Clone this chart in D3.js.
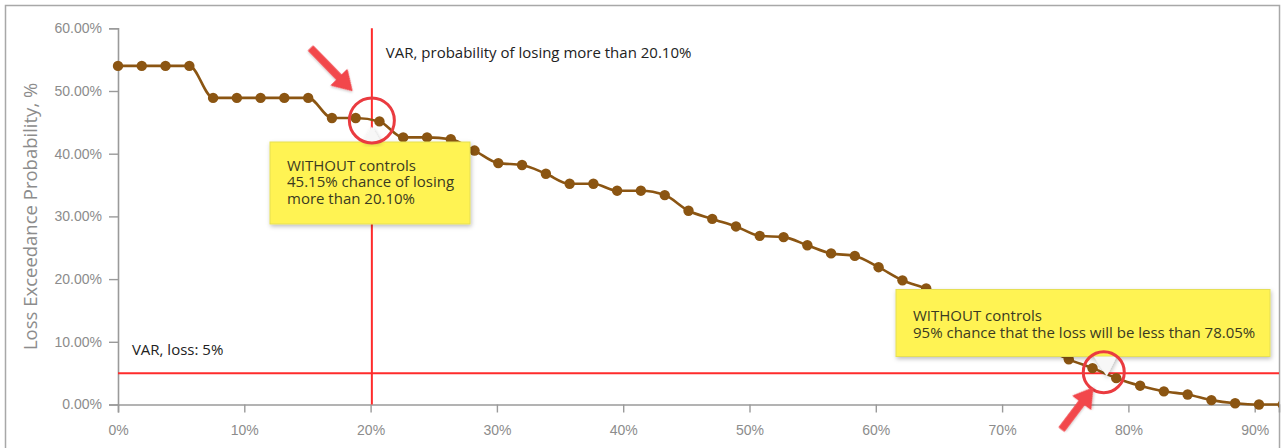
<!DOCTYPE html>
<html>
<head>
<meta charset="utf-8">
<script src="https://cdn.jsdelivr.net/npm/d3@7"></script>
<style>
  body { margin: 0; background: #fff; }
  svg { display: block; font-family: "Open Sans", "Noto Sans", sans-serif; }
</style>
</head>
<body>
<svg id="chart"></svg>
<script>
// loss level (%) of each simulated point
var lossLevels = [0, 1.88, 3.76, 5.65, 7.53, 9.41, 11.29, 13.17, 15.06, 16.94,
    18.82, 20.70, 22.58, 24.47, 26.35, 28.23, 30.11, 31.99, 33.88, 35.76,
    37.64, 39.52, 41.40, 43.29, 45.17, 47.05, 48.93, 50.81, 52.70, 54.58,
    56.46, 58.34, 60.22, 62.11, 63.99, 65.87, 67.75, 69.63, 71.52, 73.40,
    75.28, 77.16, 79.04, 80.93, 82.81, 84.69, 86.57, 88.45, 90.34, 92.22];

// probability (%) of exceeding that loss, without controls
var exceedProb = [54.0, 54.0, 54.0, 54.0, 48.9, 48.9, 48.9, 48.9, 48.9, 45.7,
    45.7, 45.15, 42.6, 42.6, 42.3, 40.5, 38.5, 38.2, 36.8, 35.2,
    35.2, 34.1, 34.1, 33.4, 30.9, 29.6, 28.4, 26.9, 26.7, 25.4,
    24.1, 23.7, 21.9, 19.8, 18.5, 16.8, 15.0, 13.0, 11.0, 9.0,
    7.2, 5.8, 4.2, 3.0, 2.1, 1.6, 0.7, 0.2, 0.0, 0.0];

var yTicks = [0, 10, 20, 30, 40, 50, 60];
var xTicks = [0, 10, 20, 30, 40, 50, 60, 70, 80, 90];

var varLoss = 20.10, varLossProb = 45.15;   // vertical VAR marker
var varProb = 5, varProbLoss = 78.05;       // horizontal VAR marker

var width = 1282, height = 448;
var margin = {left: 118, top: 28.3, right: 3, bottom: 43.5};

var svg = d3.select('#chart')
    .attr('width', width)
    .attr('height', height);

var defs = svg.append('defs');
var shadow = defs.append('filter').attr('id', 'shadow')
    .attr('x', '-10%').attr('y', '-20%').attr('width', '130%').attr('height', '150%');
shadow.append('feDropShadow')
    .attr('dx', 1).attr('dy', 2).attr('stdDeviation', 2)
    .attr('flood-color', '#000').attr('flood-opacity', 0.25);

var arrowShadow = defs.append('filter').attr('id', 'ashadow');
arrowShadow.append('feDropShadow')
    .attr('dx', 1).attr('dy', 1).attr('stdDeviation', 1)
    .attr('flood-color', '#000').attr('flood-opacity', 0.2);

var clip = defs.append('clipPath').attr('id', 'plotclip');

// outer frame
svg.append('rect')
    .attr('x', 5.5).attr('y', 5.5)
    .attr('width', 1274).attr('height', 480)
    .attr('fill', 'none')
    .attr('stroke', '#a8a8a8')
    .attr('stroke-width', 1.5);

var x = d3.scaleLinear()
    .domain([0, (width - margin.right - margin.left) / 12.63])
    .range([margin.left, width - margin.right]);

var y = d3.scaleLinear()
    .domain([0, 60])
    .range([height - margin.bottom, margin.top]);

clip.append('rect')
    .attr('x', x.range()[0] - 8).attr('y', 0)
    .attr('width', x.range()[1] - x.range()[0] + 8).attr('height', height);

// axes
var yAxis = svg.append('g')
    .attr('transform', 'translate(' + margin.left + ',0)')
    .call(d3.axisLeft(y).tickValues(yTicks).tickSize(9).tickPadding(7)
        .tickFormat(function(d) { return d.toFixed(2) + '%'; }));

var xAxis = svg.append('g')
    .attr('transform', 'translate(0,' + y(0) + ')')
    .call(d3.axisBottom(x).tickValues(xTicks).tickSize(8).tickPadding(13)
        .tickFormat(function(d) { return d + '%'; }));

[yAxis, xAxis].forEach(function(ax) {
    ax.select('.domain').attr('stroke', '#9a9a9a').attr('stroke-width', 1.6);
    ax.selectAll('.tick line').attr('stroke', '#9a9a9a').attr('stroke-width', 1.4);
    ax.selectAll('.tick text')
        .attr('fill', '#8c8c8c')
        .style('font-size', '14px');
});

svg.append('text')
    .attr('transform', 'translate(37,' + ((y(0) + y(60)) / 2) + ') rotate(-90)')
    .attr('text-anchor', 'middle')
    .attr('fill', '#8c8c8c')
    .style('font-size', '18.5px')
    .text('Loss Exceedance Probability, %');

// VAR reference lines
var red = '#ff2b2b';
svg.append('line')
    .attr('x1', x(0)).attr('x2', x.range()[1])
    .attr('y1', y(varProb)).attr('y2', y(varProb))
    .attr('stroke', red).attr('stroke-width', 2);

svg.append('line')
    .attr('x1', x(varLoss)).attr('x2', x(varLoss))
    .attr('y1', y(60)).attr('y2', y(0))
    .attr('stroke', red).attr('stroke-width', 2);

svg.append('text')
    .attr('x', x(varLoss) + 14).attr('y', y(55.3))
    .attr('fill', '#222')
    .style('font-size', '15px')
    .text('VAR, probability of losing more than ' + varLoss.toFixed(2) + '%');

svg.append('text')
    .attr('x', x(1.1)).attr('y', y(7.9))
    .attr('fill', '#222')
    .style('font-size', '15px')
    .text('VAR, loss: ' + varProb + '%');

// the curve
var pts = lossLevels.map(function(d, i) { return [d, exceedProb[i]]; });
var brown = '#8b5512';

var line = d3.line()
    .x(function(d) { return x(d[0]); })
    .y(function(d) { return y(d[1]); })
    .curve(d3.curveMonotoneX);

var gCurve = svg.append('g').attr('clip-path', 'url(#plotclip)');
gCurve.append('path')
    .datum(pts)
    .attr('d', line)
    .attr('fill', 'none')
    .attr('stroke', brown)
    .attr('stroke-width', 2.6);

gCurve.selectAll('circle')
    .data(pts)
    .enter().append('circle')
    .attr('cx', function(d) { return x(d[0]); })
    .attr('cy', function(d) { return y(d[1]); })
    .attr('r', 5.2)
    .attr('fill', brown);

// tooltip style annotations
function tooltip(px, py, left, top, w, h, lines, firstLine, caretUp) {
    var g = svg.append('g');
    var caret;
    if (caretUp) {
        caret = [[px - 9, top], [px, py + 5], [px + 9, top]];
    } else {
        caret = [[px - 10, top + h], [px + 3, py + 3], [px + 13, top + h]];
    }
    g.append('rect')
        .attr('x', left).attr('y', top)
        .attr('width', w).attr('height', h)
        .attr('fill', '#fff352')
        .attr('stroke', '#e6df55')
        .attr('stroke-width', 1)
        .attr('filter', 'url(#shadow)');
    g.append('path')
        .attr('d', d3.line()(caret) + 'Z')
        .attr('fill', '#f7f7f7')
        .attr('filter', 'url(#shadow)');
    g.selectAll('text')
        .data(lines)
        .enter().append('text')
        .attr('x', left + 17)
        .attr('y', function(d, i) { return top + firstLine + i * 16.6; })
        .attr('fill', '#3a3a22')
        .style('font-size', '15px')
        .text(function(d) { return d; });
}

tooltip(x(varLoss), y(varLossProb), 270, 142, 200, 82,
    ['WITHOUT controls',
     varLossProb.toFixed(2) + '% chance of losing',
     'more than ' + varLoss.toFixed(2) + '%'], 28.5, true);

tooltip(x(varProbLoss), y(varProb), 896, 289.5, 374, 67,
    ['WITHOUT controls',
     (100 - varProb) + '% chance that the loss will be less than ' + varProbLoss.toFixed(2) + '%'], 31.5, false);

// highlight rings
var rings = [[varLoss, varLossProb, 22.5], [varProbLoss, varProb, 20.5]];
svg.selectAll('.ring')
    .data(rings)
    .enter().append('circle')
    .attr('class', 'ring')
    .attr('cx', function(d) { return x(d[0]); })
    .attr('cy', function(d) { return y(d[1]) - 1; })
    .attr('r', function(d) { return d[2]; })
    .attr('fill', 'none')
    .attr('stroke', '#ea3b40')
    .attr('stroke-width', 3);

// pointer arrows
function arrow(x0, y0, x1, y1) {
    var a = Math.atan2(y1 - y0, x1 - x0), len = Math.hypot(x1 - x0, y1 - y0);
    var hl = 18, hw = 11, sw = 3.2;
    var g = svg.append('g')
        .attr('transform', 'translate(' + x0 + ',' + y0 + ') rotate(' + (a * 180 / Math.PI) + ')');
    g.append('path')
        .attr('d', 'M0,' + (-sw) + 'L' + (len - hl) + ',' + (-sw) + 'L' + (len - hl) + ',' + (-hw) +
            'L' + len + ',0L' + (len - hl) + ',' + hw + 'L' + (len - hl) + ',' + sw + 'L0,' + sw + 'Z')
        .attr('stroke-linejoin', 'round')
        .attr('stroke', '#f2464b').attr('stroke-width', 1.2)
        .attr('fill', '#f2464b')
        .attr('filter', 'url(#ashadow)');
}

arrow(x(varLoss) - 61, y(varLossProb) - 73, x(varLoss) - 20, y(varLossProb) - 31);
arrow(x(varProbLoss) - 42, y(varProb) + 56, x(varProbLoss) - 11, y(varProb) + 15);
</script>
</body>
</html>
